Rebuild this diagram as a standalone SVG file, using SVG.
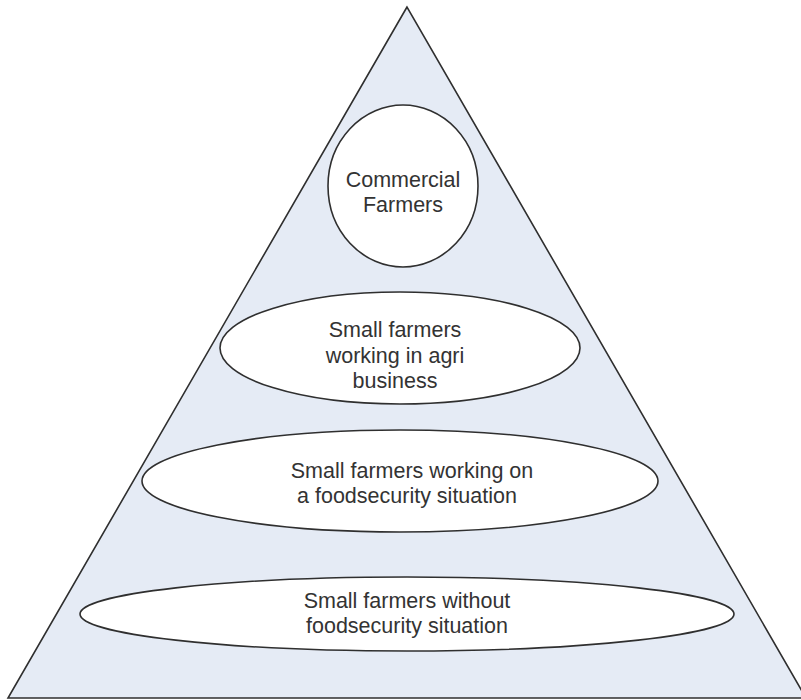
<svg xmlns="http://www.w3.org/2000/svg" width="801" height="700" viewBox="0 0 801 700">
  <style>
    .tier { fill: #ffffff; stroke: #2f2f2f; stroke-width: 1.6; }
    .label { font-family: "Liberation Sans", Arial, sans-serif; font-size: 21.5px; fill: #333333; text-anchor: middle; }
  </style>
  <rect x="0" y="0" width="801" height="700" fill="#ffffff"/>

  <!-- pyramid background -->
  <g id="pyramid">
    <polygon points="407,7 8,698 806,698" fill="#e5ebf5" stroke="#2f2f2f" stroke-width="1.6" stroke-linejoin="miter"/>
  </g>

  <!-- tiers, top to bottom -->
  <g id="commercial-farmers">
    <ellipse class="tier" cx="403" cy="186" rx="75" ry="81"/>
    <text class="label" x="403" y="187">Commercial</text>
    <text class="label" x="403" y="212">Farmers</text>
  </g>

  <g id="agri-business">
    <ellipse class="tier" cx="400" cy="348" rx="180" ry="56"/>
    <text class="label" x="395" y="337">Small farmers</text>
    <text class="label" x="395" y="363">working in agri</text>
    <text class="label" x="395" y="388">business</text>
  </g>

  <g id="foodsecurity-working">
    <ellipse class="tier" cx="400" cy="481" rx="258" ry="51"/>
    <text class="label" x="412" y="478">Small farmers working on</text>
    <text class="label" x="407" y="503">a foodsecurity situation</text>
  </g>

  <g id="without-foodsecurity">
    <ellipse class="tier" cx="407" cy="614" rx="327" ry="37"/>
    <text class="label" x="407" y="608">Small farmers without</text>
    <text class="label" x="407" y="633">foodsecurity situation</text>
  </g>

  <g id="connectors"></g>
</svg>
